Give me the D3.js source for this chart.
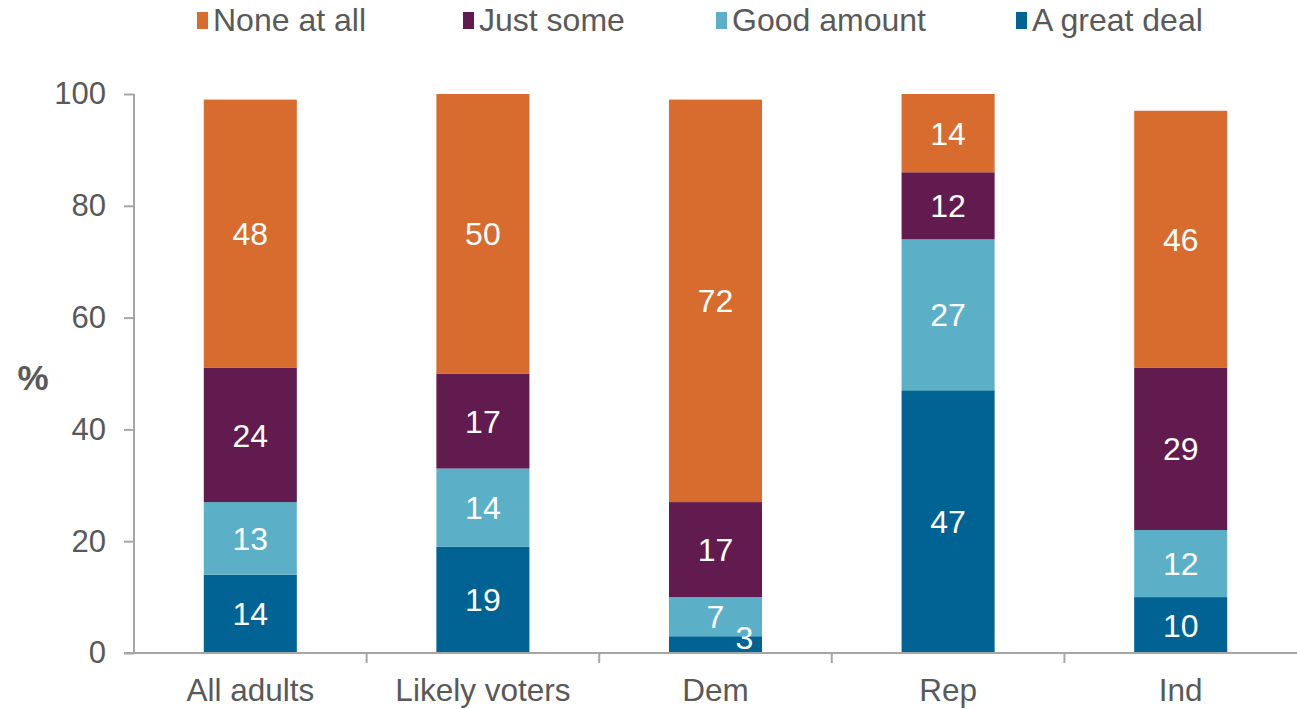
<!DOCTYPE html>
<html><head><meta charset="utf-8">
<script src="https://cdn.jsdelivr.net/npm/d3@7"></script>
<style>body{margin:0;background:#fff;}svg{display:block;font-family:"Liberation Sans",Arial,sans-serif;}</style>
</head><body><svg id="c" width="1297" height="709"></svg>
<script>
const categories = ["All adults","Likely voters","Dem","Rep","Ind"];
const seriesNames = ["A great deal","Good amount","Just some","None at all"];
const greatDeal = [14,19,3,47,10];
const goodAmount = [13,14,7,27,12];
const justSome = [24,17,17,12,29];
const noneAtAll = [48,50,72,14,46];
const yTicks = [0,20,40,60,80,100];
const colors = ["#006394","#5bafc7","#621b4e","#d86b2e"];
const legendOrder = ["None at all","Just some","Good amount","A great deal"];

const svg = d3.select("#c");
const x0 = 134, x1 = 1297, yTop = 94, yBot = 653;
const x = d3.scaleBand().domain(categories).range([x0,x1]).paddingInner(0).paddingOuter(0);
const y = d3.scaleLinear().domain([0,100]).range([yBot,yTop]);
const bw = x.bandwidth()*0.4;

const rows = categories.map((c,i)=>({cat:c, "A great deal":greatDeal[i], "Good amount":goodAmount[i], "Just some":justSome[i], "None at all":noneAtAll[i]}));
const stack = d3.stack().keys(seriesNames)(rows);

const axisCol = "#a6a6a6";
const textCol = "#595959";

// bars
const barsG = svg.append("g");
const labG = svg.append("g");
stack.forEach((layer,li)=>{
  barsG.append("g").selectAll("rect").data(layer).join("rect")
    .attr("x",d=>x(d.data.cat)+x.bandwidth()/2-bw/2)
    .attr("width",bw)
    .attr("y",d=>y(d[1]))
    .attr("height",d=>y(d[0])-y(d[1]))
    .attr("fill",colors[li]);
  labG.append("g").selectAll("text").data(layer).join("text")
    .attr("x",d=>{
      let cx = x(d.data.cat)+x.bandwidth()/2;
      if(d[1]-d[0] < 5) cx += 29;
      return cx;
    })
    .attr("y",d=>{
      let cy = y((d[0]+d[1])/2);
      if(d[1]-d[0] < 5) cy -= 7;
      return cy;
    })
    .attr("dy","0.36em")
    .attr("text-anchor","middle")
    .attr("fill","#fff")
    .attr("font-size",32)
    .text(d=>d[1]-d[0]);
});

// y axis
const ya = svg.append("g").attr("transform",`translate(${x0},0)`)
  .call(d3.axisLeft(y).tickValues(yTicks).tickSize(10).tickSizeOuter(0).tickPadding(18));
ya.select(".domain").attr("stroke",axisCol).attr("stroke-width",2).attr("d",`M0,${yTop}V${yBot}`);
ya.selectAll(".tick line").attr("stroke",axisCol).attr("stroke-width",2);
ya.selectAll(".tick text").attr("fill",textCol).attr("font-size",31).attr("font-family","Liberation Sans, Arial, sans-serif");

// x axis
const xa = svg.append("g").attr("transform",`translate(0,${yBot})`);
xa.append("line").attr("x1",x0-10).attr("x2",x1).attr("y1",0).attr("y2",0).attr("stroke",axisCol).attr("stroke-width",2);
xa.selectAll("line.t").data(categories.slice(1)).join("line").attr("class","t")
  .attr("x1",d=>x(d)).attr("x2",d=>x(d)).attr("y1",0).attr("y2",10).attr("stroke",axisCol).attr("stroke-width",2);
xa.selectAll("text").data(categories).join("text")
  .attr("x",d=>x(d)+x.bandwidth()/2).attr("y",48)
  .attr("text-anchor","middle").attr("fill",textCol).attr("font-size",31.5).text(d=>d);

// % label
svg.append("text").attr("x",33).attr("y",390).attr("text-anchor","middle")
  .attr("font-weight","bold").attr("font-size",35).attr("fill",textCol).text("%");

// legend
const legX = [197,463,716,1016];
const lg = svg.append("g");
legendOrder.forEach((n,i)=>{
  const ci = seriesNames.indexOf(n);
  lg.append("rect").attr("x",legX[i]).attr("y",12).attr("width",11).attr("height",17).attr("fill",colors[ci]);
  lg.append("text").attr("x",legX[i]+16).attr("y",31).attr("font-size",32).attr("fill",textCol).text(n);
});
</script></body></html>
